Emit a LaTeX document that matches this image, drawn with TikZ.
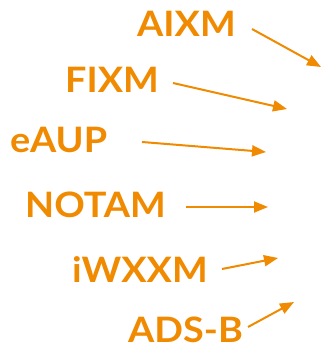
\documentclass[tikz,border=0pt]{standalone}
\usepackage{fontspec}
\setmainfont{Lato}[FakeStretch=1.08]
\usetikzlibrary{arrows.meta}
\definecolor{aorange}{RGB}{240,138,0}
\tikzset{
  lbl/.style={anchor=base west,inner sep=0pt,text=aorange,font=\fontsize{35}{40}\selectfont\bfseries},
  arr/.style={draw=aorange,line width=2pt,-{Triangle[length=14pt,width=11pt]}}
}
\begin{document}
\begin{tikzpicture}[x=1pt,y=-1pt]
\useasboundingbox (0,0) rectangle (322,347);
\node[lbl] (aixm) at (137,37) {AIXM};
\node[lbl] (fixm) at (65,93) {FIXM};
\node[lbl] (eaup) at (10,153) {eAUP};
\node[lbl] (notam) at (25,217) {NOTAM};
\node[lbl] (iwxxm) at (72,282) {iWXXM};
\node[lbl] (adsb) at (128,342) {ADS-B};
\coordinate (s1) at (252,29); \coordinate (e1) at (321,67);
\coordinate (s2) at (173,83); \coordinate (e2) at (287,109);
\coordinate (s3) at (142,142); \coordinate (e3) at (266,152);
\coordinate (s4) at (186,207); \coordinate (e4) at (268,207);
\coordinate (s5) at (222,269); \coordinate (e5) at (278,258);
\coordinate (s6) at (248,327); \coordinate (e6) at (294,302);
\draw[arr] (s1) -- (e1);
\draw[arr] (s2) -- (e2);
\draw[arr] (s3) -- (e3);
\draw[arr] (s4) -- (e4);
\draw[arr] (s5) -- (e5);
\draw[arr] (s6) -- (e6);
\end{tikzpicture}
\end{document}
